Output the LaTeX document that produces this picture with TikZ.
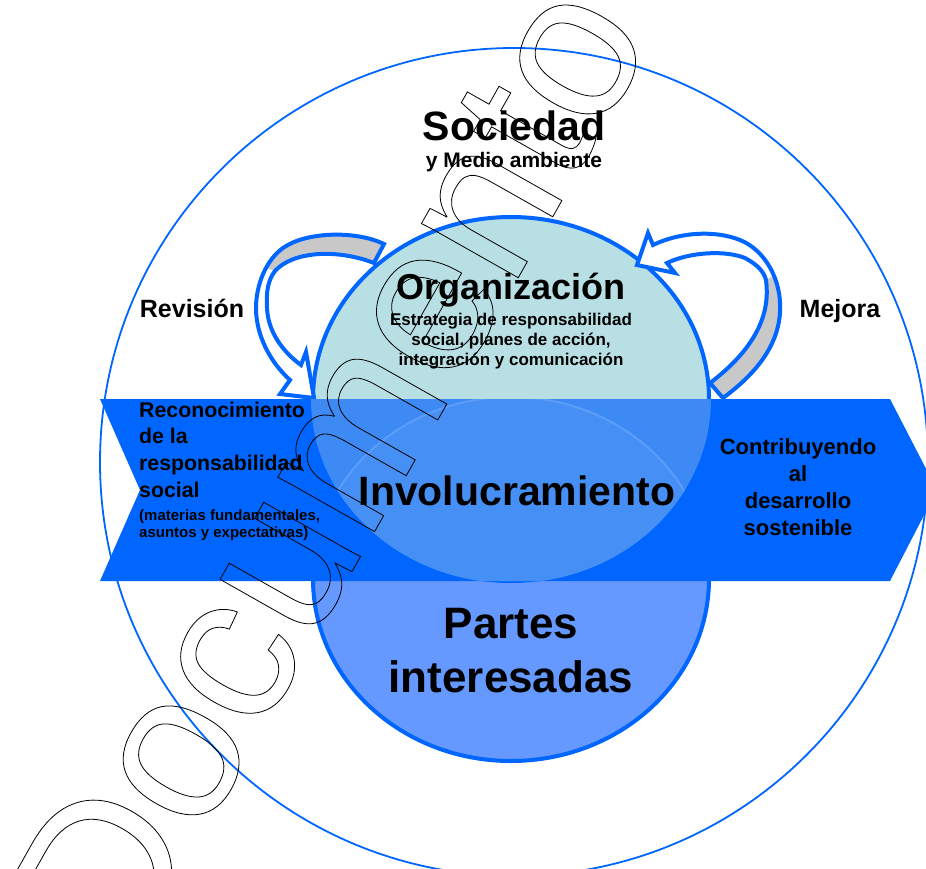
\documentclass[tikz,border=0pt]{standalone}
\usepackage{fontspec}
\setmainfont{Liberation Sans}
\definecolor{mblue}{HTML}{0066FF}
\definecolor{lowblue}{HTML}{6699FF}
\definecolor{orgteal}{HTML}{B8DFE3}
\definecolor{bandlight}{HTML}{3D8AF5}
\definecolor{lenslight}{HTML}{4690F5}
\definecolor{lensedge}{HTML}{5C9DFA}
\definecolor{foldgrey}{HTML}{C8C8C8}
\newcommand{\outlinetext}[1]{\special{pdf:literal direct 1 Tr 0.8 w}#1\special{pdf:literal direct 0 Tr}}
\tikzset{
  fs/.style={inner sep=0pt, font=\bfseries\fontsize{#1}{#1}\selectfont, text=black},
  blueline/.style={draw=mblue, line width=4pt, line join=miter},
}
\begin{document}
\begin{tikzpicture}[x=1pt,y=-1pt]
\useasboundingbox (0,0) rectangle (926,868);
\begin{scope}
\clip (0,0) rectangle (926,868);
\fill[white] (0,0) rectangle (926,868);
% outer circle
\draw[draw=mblue, line width=1.8pt] (514,462) circle [radius=414];
% lower ellipse (Partes interesadas)
\path[fill=lowblue, blueline] (511,579) ellipse [x radius=198, y radius=182];
% upper ellipse (Organizacion)
\path[fill=orgteal, blueline] (511,399) ellipse [x radius=198, y radius=182];
% left curved arrow (Revision)
\path[fill=white] (384,244) .. controls (355,230) and (305,232) .. (283,248)
  .. controls (266,260) and (256,285) .. (256,308)
  .. controls (256,335) and (270,362) .. (290,380)
  -- (280,394) -- (314,398) -- (306,352) -- (301,365)
  .. controls (283,352) and (268,332) .. (267,308)
  .. controls (266,292) and (268,280) .. (275,271)
  .. controls (292,252) and (335,248) .. (374,263) -- cycle;
\fill[foldgrey] (384,244) .. controls (355,230) and (305,232) .. (283,248)
  .. controls (276,253) and (271,260) .. (267,268) -- (275,271)
  .. controls (292,252) and (335,248) .. (374,263) -- cycle;
\draw[blueline] (384,244) .. controls (355,230) and (305,232) .. (283,248)
  .. controls (266,260) and (256,285) .. (256,308)
  .. controls (256,335) and (270,362) .. (290,380)
  -- (280,394) -- (314,398) -- (306,352) -- (301,365)
  .. controls (283,352) and (268,332) .. (267,308)
  .. controls (266,292) and (268,280) .. (275,271)
  .. controls (292,252) and (335,248) .. (374,263) -- cycle;
% right curved arrow (Mejora)
\path[fill=white] (723,398) .. controls (750,378) and (778,350) .. (780,312)
  .. controls (782,280) and (765,250) .. (740,240)
  .. controls (715,230) and (680,232) .. (653,245)
  -- (648,233) -- (637,265) -- (675,273) -- (667,263)
  .. controls (690,252) and (725,250) .. (745,258)
  .. controls (758,265) and (764,272) .. (766,280)
  .. controls (770,310) and (760,345) .. (710,383) -- cycle;
\fill[foldgrey] (766,280) .. controls (770,310) and (760,345) .. (710,383)
  -- (723,398) .. controls (750,378) and (778,350) .. (780,312)
  .. controls (781,297) and (778,286) .. (773,276) -- cycle;
\draw[blueline] (723,398) .. controls (750,378) and (778,350) .. (780,312)
  .. controls (782,280) and (765,250) .. (740,240)
  .. controls (715,230) and (680,232) .. (653,245)
  -- (648,233) -- (637,265) -- (675,273) -- (667,263)
  .. controls (690,252) and (725,250) .. (745,258)
  .. controls (758,265) and (764,272) .. (766,280)
  .. controls (770,310) and (760,345) .. (710,383) -- cycle;
% big band arrow
\fill[mblue] (100,399) -- (890,399) -- (937,490) -- (890,581) -- (100,581) -- (140,490) -- cycle;
\begin{scope}
  \clip (100,399) -- (890,399) -- (937,490) -- (890,581) -- (100,581) -- (140,490) -- cycle;
  \fill[bandlight] (511,399) ellipse [x radius=200, y radius=184];
  \begin{scope}
    \clip (511,399) ellipse [x radius=200, y radius=184];
    \fill[lenslight] (511,579) ellipse [x radius=198, y radius=182];
    \draw[lensedge, line width=2pt] (511,579) ellipse [x radius=198, y radius=182];
  \end{scope}
\end{scope}
% texts
\node[fs=41, anchor=base] (soc) at (514,140) {Sociedad};
\node[fs=21, anchor=base] (med) at (514,167) {y Medio ambiente};
\node[fs=36, anchor=base] (org) at (511,299) {Organización};
\node[fs=17, anchor=base] (est1) at (511,325) {Estrategia de responsabilidad};
\node[fs=17, anchor=base] (est2) at (511,345) {social, planes de acción,};
\node[fs=17, anchor=base] (est3) at (511,365) {integración y comunicación};
\node[fs=25, anchor=base] (rev) at (192,317) {Revisión};
\node[fs=25, anchor=base] (mej) at (840,317) {Mejora};
\node[fs=21.3, anchor=base west] (rec1) at (139,417) {Reconocimiento};
\node[fs=21.3, anchor=base west] (rec2) at (139,443) {de la};
\node[fs=21.3, anchor=base west] (rec3) at (139,470) {responsabilidad};
\node[fs=21.3, anchor=base west] (rec4) at (139,497) {social};
\node[fs=15, anchor=base west] (mat1) at (139,520) {(materias fundamentales,};
\node[fs=15, anchor=base west] (mat2) at (139,537) {asuntos y expectativas)};
\node[fs=22, anchor=base] (con1) at (798,454) {Contribuyendo};
\node[fs=22, anchor=base] (con2) at (798,481) {al};
\node[fs=22, anchor=base] (con3) at (798,508) {desarrollo};
\node[fs=22, anchor=base] (con4) at (798,535) {sostenible};
\node[fs=41, anchor=base] (inv) at (517,505) {Involucramiento};
\node[fs=44, anchor=base] (par1) at (511,638) {Partes};
\node[fs=44, anchor=base] (par2) at (511,692) {interesadas};
% watermark (outlined letters)
\node[rotate=60.5, anchor=base west, inner sep=0pt, text=black,
      font=\fontsize{210}{210}\selectfont] (wm) at (126,971)
      {\outlinetext{Documento}};
\end{scope}
\end{tikzpicture}
\end{document}
